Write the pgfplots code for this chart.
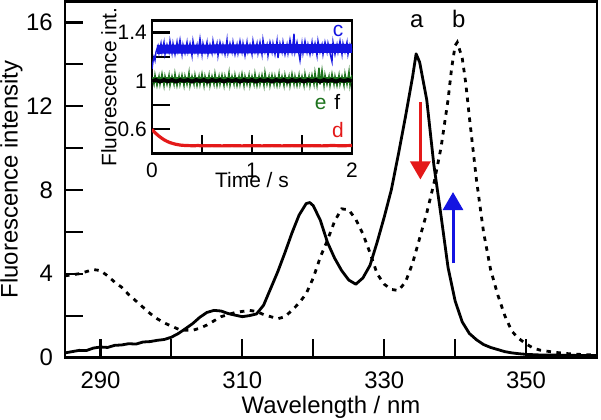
\documentclass[border=0pt]{standalone}
\usepackage{fontspec}
\setmainfont{Liberation Sans}
\usepackage{pgfplots}
\pgfplotsset{compat=1.18}
\usetikzlibrary{arrows.meta}
\definecolor{cblue}{RGB}{20,20,225}
\definecolor{cgreen}{RGB}{30,115,30}
\definecolor{cred}{RGB}{228,25,25}
\begin{document}
\begin{tikzpicture}[x=1bp,y=1bp]
\begin{axis}[
  name=main, at={(0bp,0bp)}, anchor=south west,
  scale only axis, width=532bp, height=356bp,
  xmin=285, xmax=360, ymin=0, ymax=17,
  axis line style={line width=2.4bp},
  tick align=inside, xtick pos=bottom, ytick pos=left,
  major tick length=18bp,
  every tick/.style={black, line width=2.2bp},
  xtick={290,300,310,320,330,340,350},
  xticklabels={290,,310,,330,,350},
  ytick={0,2,4,6,8,10,12,14,16},
  yticklabels={0,,4,,8,,12,,16},
  tick label style={font=\fontsize{24pt}{28pt}\selectfont, inner sep=0pt},
  xticklabel style={anchor=north, yshift=-14bp},
  yticklabel style={anchor=east, xshift=-12bp},
  xlabel={Wavelength / nm},
  ylabel={Fluorescence intensity},
  every axis x label/.style={at={(axis description cs:0.5,0)}, yshift=-55.5bp, anchor=base, inner sep=0pt, font=\fontsize{24pt}{28pt}\selectfont},
  every axis y label/.style={at={(axis description cs:0,0.5)}, xshift=-65bp, rotate=90, anchor=north, inner sep=0pt, font=\fontsize{24pt}{28pt}\selectfont},
  clip=true,
]
% solid curve a
\addplot[black, line width=2.8bp, line join=round] coordinates {
(285,0.22)(286,0.28)(287,0.34)(288,0.33)(289,0.45)(290,0.50)(291,0.48)(292,0.58)(293,0.60)(294,0.66)
(295,0.64)(296,0.74)(297,0.76)(298,0.82)(299,0.86)(300,0.97)(301,1.15)(302,1.38)(303,1.62)(304,1.92)
(305,2.15)(306,2.25)(307,2.22)(308,2.10)(309,2.02)(310,1.95)(311,2.00)(312,2.08)(313,2.50)(314,3.30)
(315,4.10)(316,5.00)(317,5.95)(318,6.80)(319,7.35)(319.5,7.40)(320,7.25)(321,6.55)(322,5.50)(323,4.75)
(324,4.15)(325,3.70)(326,3.50)(327,3.80)(328,4.40)(329,5.50)(330,6.70)(331,8.00)(332,9.70)(333,11.50)
(334,13.40)(334.5,14.50)(335,14.10)(336,12.30)(337,9.20)(338,6.80)(339,4.30)(340,2.70)(341,1.70)(342,1.15)
(343,0.85)(344,0.62)(345,0.48)(346,0.38)(347,0.28)(348,0.22)(349,0.18)(350,0.15)(352,0.12)(355,0.11)
(357,0.10)(360,0.10)
};
% dotted curve b
\addplot[black, line width=2.8bp, dash pattern=on 4.5bp off 5.5bp] coordinates {
(285,3.90)(286,3.95)(287,4.00)(288,4.10)(289,4.20)(290,4.15)(291,3.90)(292,3.60)(293,3.35)(294,3.00)
(295,2.70)(296,2.40)(297,2.10)(298,1.85)(299,1.65)(300,1.50)(301,1.35)(302,1.30)(303,1.30)(304,1.40)
(305,1.55)(306,1.75)(307,1.95)(308,2.05)(309,2.15)(310,2.20)(311,2.25)(312,2.20)(313,2.05)(314,1.95)
(315,1.85)(316,1.95)(317,2.25)(318,2.60)(319,3.05)(320,3.80)(321,4.80)(322,5.60)(323,6.50)(324,7.10)
(325,7.05)(326,6.60)(327,5.90)(328,5.00)(329,4.00)(330,3.50)(331,3.25)(332,3.20)(333,3.60)(334,4.50)
(335,5.70)(336,6.90)(337,8.30)(338,10.00)(339,12.30)(339.5,13.80)(340,14.90)(340.3,15.05)(341,14.30)
(341.5,13.10)(342,11.50)(343,8.50)(344,6.00)(345,4.20)(346,3.00)(347,2.00)(348,1.25)(349,0.90)(350,0.65)
(351,0.45)(352,0.35)(354,0.25)(356,0.18)(358,0.14)(360,0.12)
};
\draw[cred, line width=3bp, -{Triangle[width=20bp,length=18bp]}] (axis cs:335.1,12.2) -- (axis cs:335.1,8.5);
\draw[cblue, line width=3bp, -{Triangle[width=20bp,length=18bp]}] (axis cs:339.7,4.5) -- (axis cs:339.7,7.9);
\node[font=\fontsize{24pt}{28pt}\selectfont, anchor=base, inner sep=0pt] at (axis cs:334.6,15.77) {a};
\node[font=\fontsize{24pt}{28pt}\selectfont, anchor=base, inner sep=0pt] at (axis cs:340.5,15.77) {b};
\end{axis}

\begin{axis}[
  at={(87bp,204bp)}, anchor=south west,
  scale only axis, width=200bp, height=133bp,
  xmin=0, xmax=2, ymin=0.4, ymax=1.5,
  axis background/.style={fill=white},
  axis line style={line width=2.4bp},
  tick align=inside, xtick pos=bottom, ytick pos=left,
  major tick length=18bp,
  every tick/.style={black, line width=2.2bp},
  xtick={0,0.5,1,1.5,2},
  xticklabels={0,,1,,2},
  ytick={0.6,0.8,1,1.2,1.4},
  yticklabels={0.6,,1,,1.4},
  tick label style={font=\fontsize{21pt}{25pt}\selectfont, inner sep=0pt},
  xticklabel style={anchor=north, yshift=-9bp},
  yticklabel style={anchor=east, xshift=-5bp},
  xlabel={Time / s},
  ylabel={Fluorescence int.},
  every axis x label/.style={at={(axis description cs:0.5,0)}, yshift=-34bp, anchor=base, inner sep=0pt, font=\fontsize{21pt}{25pt}\selectfont},
  every axis y label/.style={at={(axis description cs:0,0.5)}, xshift=-51bp, rotate=90, anchor=north, inner sep=0pt, font=\fontsize{21pt}{25pt}\selectfont},
  clip=true,
]
% c (blue)
\addplot[cblue, line width=1.4bp] coordinates {
(0.00,1.10)(0.01,1.16)(0.02,1.20)(0.03,1.17)(0.04,1.24)(0.06,1.29)(0.07,1.23)(0.09,1.31)(0.10,1.24)(0.12,1.32)
(0.13,1.22)(0.15,1.30)(0.17,1.24)(0.18,1.33)(0.20,1.23)(0.21,1.31)(0.23,1.22)(0.25,1.32)(0.26,1.25)(0.28,1.34)
(0.30,1.22)(0.31,1.30)(0.33,1.23)(0.35,1.32)(0.36,1.24)(0.38,1.31)(0.40,1.21)(0.41,1.33)(0.43,1.24)(0.45,1.30)
(0.46,1.23)(0.48,1.35)(0.50,1.22)(0.51,1.31)(0.53,1.24)(0.55,1.32)(0.56,1.22)(0.58,1.30)(0.60,1.23)(0.61,1.33)
(0.63,1.24)(0.65,1.31)(0.66,1.21)(0.68,1.32)(0.70,1.24)(0.71,1.30)(0.73,1.22)(0.75,1.34)(0.76,1.23)(0.78,1.31)
(0.80,1.24)(0.81,1.32)(0.83,1.22)(0.85,1.30)(0.86,1.23)(0.88,1.33)(0.90,1.24)(0.91,1.31)(0.93,1.21)(0.95,1.32)
(0.96,1.24)(0.98,1.30)(1.00,1.22)(1.01,1.33)(1.03,1.24)(1.05,1.31)(1.06,1.23)(1.08,1.32)(1.10,1.22)(1.11,1.34)
(1.13,1.24)(1.15,1.30)(1.16,1.21)(1.18,1.32)(1.20,1.24)(1.21,1.31)(1.23,1.22)(1.25,1.33)(1.26,1.19)(1.28,1.31)
(1.30,1.24)(1.31,1.32)(1.33,1.22)(1.35,1.30)(1.36,1.23)(1.38,1.34)(1.40,1.24)(1.41,1.31)(1.42,1.39)(1.43,1.24)
(1.45,1.32)(1.47,1.22)(1.48,1.17)(1.50,1.31)(1.51,1.23)(1.53,1.33)(1.55,1.24)(1.56,1.30)(1.58,1.22)(1.60,1.32)
(1.61,1.24)(1.63,1.31)(1.65,1.21)(1.66,1.33)(1.68,1.24)(1.70,1.30)(1.71,1.22)(1.73,1.32)(1.75,1.24)(1.76,1.31)
(1.78,1.23)(1.80,1.16)(1.81,1.32)(1.83,1.22)(1.85,1.30)(1.86,1.24)(1.88,1.33)(1.90,1.22)(1.91,1.31)(1.93,1.24)
(1.95,1.32)(1.96,1.22)(1.98,1.30)(2.00,1.25)
};
\addplot[cblue, line width=9bp] coordinates {(0.05,1.262)(2,1.27)};
% e (green)
\addplot[cgreen, line width=1.4bp] coordinates {
(0.00,1.03)(0.02,0.97)(0.03,1.05)(0.05,0.96)(0.07,1.04)(0.08,0.97)(0.10,1.06)(0.12,0.96)(0.13,1.04)(0.15,0.97)
(0.17,1.05)(0.18,0.96)(0.20,1.04)(0.22,0.97)(0.23,1.06)(0.25,0.96)(0.27,1.04)(0.28,0.97)(0.30,1.05)(0.32,0.96)
(0.33,1.04)(0.35,0.97)(0.37,1.07)(0.38,0.96)(0.40,1.04)(0.42,0.97)(0.43,1.05)(0.45,0.96)(0.47,1.04)(0.48,0.97)
(0.50,1.06)(0.52,0.96)(0.53,1.04)(0.55,0.97)(0.57,1.05)(0.58,0.96)(0.60,1.04)(0.62,0.97)(0.63,1.06)(0.65,0.96)
(0.67,1.04)(0.68,0.97)(0.70,1.05)(0.72,0.96)(0.73,1.04)(0.75,0.97)(0.77,1.07)(0.78,0.96)(0.80,1.04)(0.82,0.97)
(0.83,1.05)(0.85,0.96)(0.87,1.04)(0.88,0.97)(0.90,1.06)(0.92,0.96)(0.93,1.04)(0.95,0.97)(0.97,1.05)(0.98,0.96)
(1.00,1.04)(1.02,0.97)(1.03,1.06)(1.05,0.96)(1.07,1.04)(1.08,0.97)(1.10,1.05)(1.12,0.96)(1.13,1.07)(1.15,0.97)
(1.17,1.04)(1.18,0.96)(1.20,1.05)(1.22,0.97)(1.23,1.04)(1.25,0.96)(1.27,1.06)(1.28,0.97)(1.30,1.04)(1.32,0.96)
(1.33,1.05)(1.35,0.97)(1.37,1.04)(1.38,0.96)(1.40,1.06)(1.42,0.97)(1.43,1.04)(1.45,0.96)(1.47,1.05)(1.48,0.97)
(1.50,1.04)(1.52,0.96)(1.53,1.06)(1.55,0.97)(1.57,1.04)(1.58,0.96)(1.60,1.05)(1.62,0.97)(1.63,1.07)(1.65,0.96)
(1.67,1.11)(1.68,0.97)(1.70,1.09)(1.72,0.96)(1.73,1.05)(1.75,0.97)(1.77,1.04)(1.78,0.96)(1.80,1.06)(1.82,0.97)
(1.83,1.04)(1.85,0.96)(1.87,1.05)(1.88,0.97)(1.90,1.04)(1.92,0.96)(1.93,1.06)(1.95,0.97)(1.97,1.08)(1.98,0.96)
(2.00,1.05)
};
\addplot[cgreen, line width=6bp] coordinates {(0,1.005)(2,1.005)};
% f (black)
\addplot[black, line width=3.8bp] coordinates {
(0.00,1.00)(0.04,1.008)(0.08,0.995)(0.12,1.008)(0.16,0.997)(0.20,1.008)(0.24,0.995)(0.28,1.008)(0.32,1.00)(0.36,1.008)
(0.40,0.995)(0.44,1.008)(0.48,1.00)(0.52,1.008)(0.56,0.995)(0.60,1.008)(0.64,1.00)(0.68,1.008)(0.72,0.995)(0.76,1.008)
(0.80,1.00)(0.84,1.008)(0.88,0.995)(0.92,1.008)(0.96,1.00)(1.00,1.008)(1.04,0.995)(1.08,1.008)(1.12,1.00)(1.16,1.008)
(1.20,0.995)(1.24,1.008)(1.28,1.00)(1.32,1.008)(1.36,0.995)(1.40,1.008)(1.44,1.00)(1.48,1.008)(1.52,0.995)(1.56,1.008)
(1.60,1.00)(1.64,1.008)(1.68,0.995)(1.72,1.008)(1.76,1.00)(1.80,1.008)(1.84,0.995)(1.88,1.008)(1.92,1.00)(1.96,1.008)
(2.00,1.00)
};
% d (red)
\addplot[cred, line width=3.2bp, line join=round] coordinates {
(0.00,0.60)(0.02,0.58)(0.04,0.565)(0.06,0.55)(0.08,0.537)(0.10,0.525)(0.12,0.514)(0.14,0.505)(0.16,0.497)(0.18,0.49)
(0.20,0.485)(0.22,0.48)(0.24,0.476)(0.26,0.473)(0.28,0.47)(0.30,0.468)(0.34,0.466)(0.38,0.465)(0.42,0.464)(0.46,0.466)
(0.50,0.463)(0.60,0.465)(0.70,0.463)(0.80,0.465)(0.90,0.463)(1.00,0.465)(1.10,0.463)(1.20,0.465)(1.30,0.463)(1.40,0.465)
(1.50,0.463)(1.60,0.465)(1.70,0.463)(1.80,0.466)(1.90,0.464)(2.00,0.466)
};
\node[text=cblue, font=\fontsize{21pt}{25pt}\selectfont, anchor=base, inner sep=0pt] at (axis cs:1.86,1.37) {c};
\node[text=cgreen, font=\fontsize{21pt}{25pt}\selectfont, anchor=base, inner sep=0pt] at (axis cs:1.687,0.764) {e};
\node[text=black, font=\fontsize{21pt}{25pt}\selectfont, anchor=base, inner sep=0pt] at (axis cs:1.853,0.764) {f};
\node[text=cred, font=\fontsize{21pt}{25pt}\selectfont, anchor=base, inner sep=0pt] at (axis cs:1.86,0.53) {d};
\end{axis}
\pgfresetboundingbox
\path[use as bounding box] (-65bp,-62.5bp) rectangle (536bp,357.5bp);
\end{tikzpicture}
\end{document}
